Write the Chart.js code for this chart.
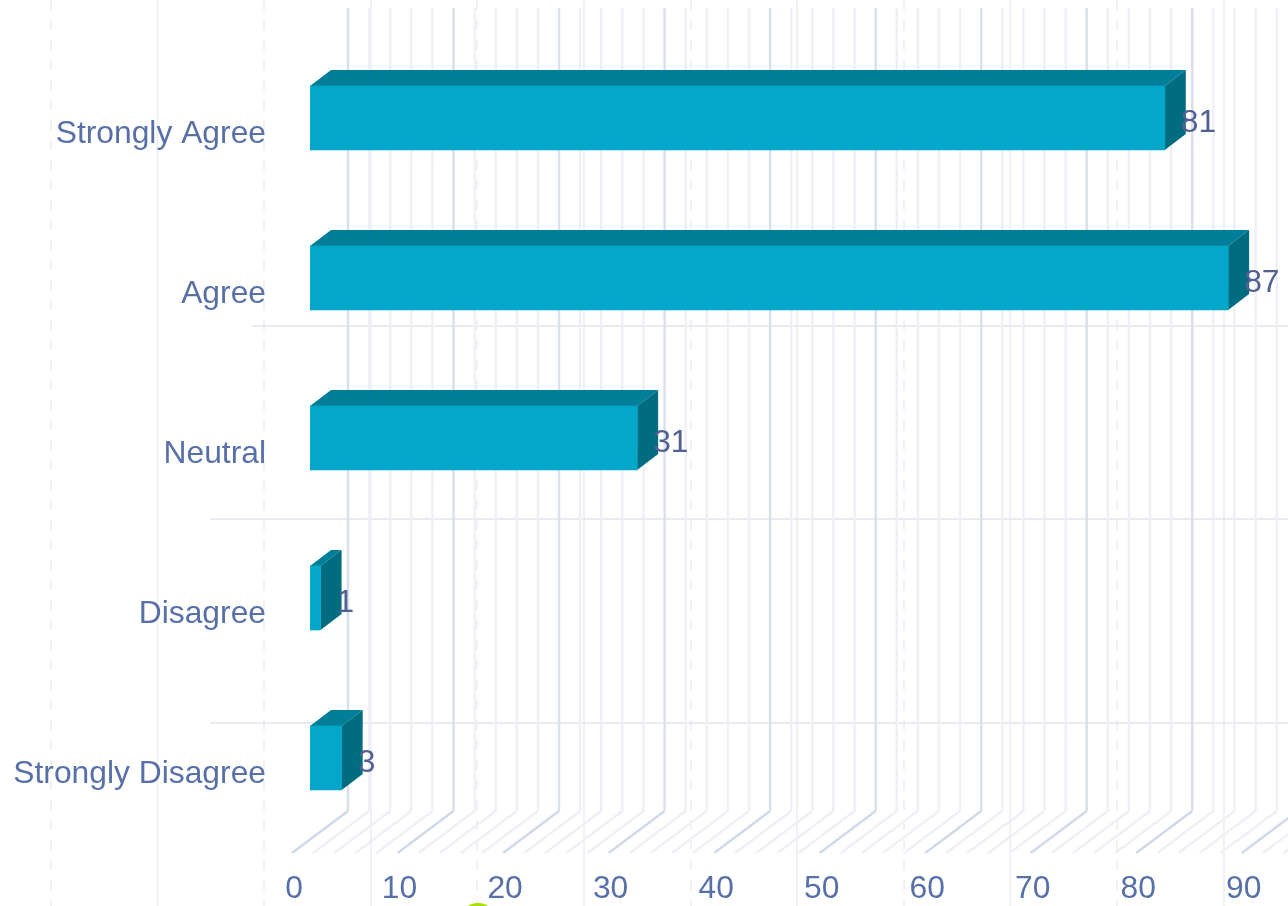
<!DOCTYPE html>
<html>
<head>
<meta charset="utf-8">
<style>
html,body{margin:0;padding:0;background:#fff;overflow:hidden;}
canvas{display:block;}
</style>
<script src="https://cdn.jsdelivr.net/npm/chart.js@4"></script>
</head>
<body>
<canvas id="c" width="1302" height="906"></canvas>
<script>
const categories = ["Strongly Agree", "Agree", "Neutral", "Disagree", "Strongly Disagree"];
const responses = [81, 87, 31, 1, 3];
const tickLabels = [0, 10, 20, 30, 40, 50, 60, 70, 80, 90];

const FONT = '"Liberation Sans", Arial, sans-serif';
const FONT_SIZE = 31.8;
const DEPTH = { x: 21, y: 16 };
const WALL = { back: 38, front: -18, top: 8, bottom: 811, floor: 853 };
const BG_V_DASHED = [51, 264, 477, 691, 904, 1117];
const BG_V_SOLID = [157.5, 371, 584, 797, 1010, 1224];
const BG_H = [[252, 326], [210, 519], [210, 723]];

const backdrop = {
  id: 'backdrop',
  beforeDraw(chart) {
    const { ctx, width, height } = chart;
    ctx.save();
    ctx.fillStyle = '#ffffff';
    ctx.fillRect(0, 0, width, height);
    ctx.strokeStyle = '#f0f1f6';
    ctx.lineWidth = 2;
    ctx.setLineDash([10, 10]);
    BG_V_DASHED.forEach(x => { ctx.beginPath(); ctx.moveTo(x, 0); ctx.lineTo(x, height); ctx.stroke(); });
    ctx.setLineDash([]);
    BG_V_SOLID.forEach(x => { ctx.beginPath(); ctx.moveTo(x, 0); ctx.lineTo(x, height); ctx.stroke(); });
    ctx.strokeStyle = '#e9ebf1';
    BG_H.forEach(([x, y]) => { ctx.beginPath(); ctx.moveTo(x, y); ctx.lineTo(width, y); ctx.stroke(); });
    // lime circle peeking in at the bottom edge
    ctx.fillStyle = '#a8e000';
    ctx.beginPath(); ctx.arc(478, 921, 18, 0, Math.PI * 2); ctx.fill();
    const xs = chart.scales.x;
    ctx.lineWidth = 2.4;
    xs.ticks.forEach(t => {
      const px = xs.getPixelForValue(t.value);
      const major = t.value % 10 === 0;
      ctx.strokeStyle = major ? '#d9dfeb' : '#eef0f6';
      ctx.beginPath();
      ctx.moveTo(px + WALL.back, WALL.top);
      ctx.lineTo(px + WALL.back, WALL.bottom);
      ctx.stroke();
      ctx.strokeStyle = major ? '#d0d9e9' : '#eef0f6';
      ctx.beginPath();
      ctx.moveTo(px + WALL.back, WALL.bottom);
      ctx.lineTo(px + WALL.front, WALL.floor);
      ctx.stroke();
    });
    ctx.restore();
  }
};

const bars3d = {
  id: 'bars3d',
  beforeDatasetsDraw(chart) {
    const { ctx } = chart;
    const left = chart.scales.x.getPixelForValue(0);
    chart.getDatasetMeta(0).data.forEach(bar => {
      const top = bar.y - bar.height / 2;
      const bottom = bar.y + bar.height / 2;
      ctx.save();
      ctx.fillStyle = '#008098';
      ctx.beginPath();
      ctx.moveTo(left, top);
      ctx.lineTo(left + DEPTH.x, top - DEPTH.y);
      ctx.lineTo(bar.x + DEPTH.x, top - DEPTH.y);
      ctx.lineTo(bar.x, top);
      ctx.closePath();
      ctx.fill();
      ctx.fillStyle = '#006c80';
      ctx.beginPath();
      ctx.moveTo(bar.x, top);
      ctx.lineTo(bar.x + DEPTH.x, top - DEPTH.y);
      ctx.lineTo(bar.x + DEPTH.x, bottom - DEPTH.y);
      ctx.lineTo(bar.x, bottom);
      ctx.closePath();
      ctx.fill();
      ctx.restore();
    });
  },
  afterDatasetsDraw(chart) {
    const { ctx } = chart;
    ctx.save();
    ctx.font = FONT_SIZE + 'px ' + FONT;
    ctx.fillStyle = '#525f93';
    ctx.textBaseline = 'middle';
    ctx.textAlign = 'left';
    chart.getDatasetMeta(0).data.forEach((bar, i) => {
      ctx.fillText(String(responses[i]), bar.x + 16, bar.y + 5);
    });
    ctx.restore();
  }
};

new Chart(document.getElementById('c'), {
  type: 'bar',
  data: {
    labels: categories,
    datasets: [{
      data: responses,
      backgroundColor: '#02a7ca',
      borderWidth: 0,
      barThickness: 64
    }]
  },
  plugins: [backdrop, bars3d],
  options: {
    indexAxis: 'y',
    responsive: false,
    animation: false,
    layout: { padding: { top: 38, right: 0, left: 0, bottom: 0 } },
    plugins: { legend: { display: false }, tooltip: { enabled: false }, title: { display: false } },
    scales: {
      x: {
        type: 'linear',
        min: 0,
        max: 94,
        grid: { display: false, drawTicks: false },
        border: { display: false },
        afterFit(s) { s.height = 68; s.paddingLeft = 0; s.paddingRight = 0; },
        ticks: {
          stepSize: 2,
          autoSkip: false,
          maxRotation: 0,
          minRotation: 0,
          includeBounds: false,
          padding: 32,
          labelOffset: -16,
          color: '#5870a8',
          font: { family: FONT, size: FONT_SIZE },
          callback: v => tickLabels.includes(v) ? String(v) : ''
        }
      },
      y: {
        type: 'category',
        grid: { display: false, drawTicks: false },
        border: { display: false },
        afterFit(s) { s.width = 310; s.paddingTop = 0; s.paddingBottom = 0; },
        ticks: {
          padding: 44,
          labelOffset: 16,
          color: '#5870a8',
          font: { family: FONT, size: FONT_SIZE }
        }
      }
    }
  }
});
</script>
</body>
</html>
